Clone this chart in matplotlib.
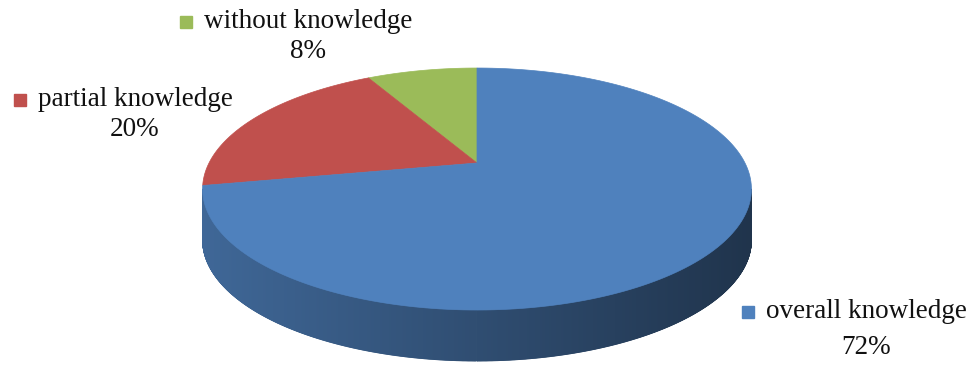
import numpy as np
import matplotlib.pyplot as plt
from matplotlib.patches import Polygon
from matplotlib.colors import to_rgb

# data, in drawing order (counter-clockwise from 12 o'clock)
labels = ['without knowledge', 'partial knowledge', 'overall knowledge']
values = [8, 20, 72]
colors = ['#9BBB59', '#C0504D', '#4F81BD']

# label placement (pixel coords of the text block centre, first line / second line)
label_pos = [(308, 22, 52), (135, 100, 129), (866, 312, 347)]

# tilted pie geometry on screen (pixels)
cx, cy = 477, 163
rx, ry = 268, 115.4
persp = 0.215
depth = 51


def project(theta):
    X, Y = np.cos(theta), np.sin(theta)
    d = 1 + persp * Y
    return cx + rx * X / d, cy - ry * Y / d


fig = plt.figure(figsize=(9.66, 3.67), dpi=100)
ax = fig.add_axes([0, 0, 1, 1])
ax.set_xlim(0, 966)
ax.set_ylim(367, 0)
ax.axis('off')

fracs = np.array(values) / np.sum(values)
starts = np.pi / 2 + 2 * np.pi * np.concatenate([[0], np.cumsum(fracs)[:-1]])
ends = starts + 2 * np.pi * fracs

# side walls (only the front facing part is visible)
for s, e, c in zip(starts, ends, colors):
    t = np.linspace(s, e, max(int(400 * (e - s)), 4))
    base = np.array(to_rgb(c))
    for t0, t1 in zip(t[:-1], t[1:]):
        tm = 0.5 * (t0 + t1)
        if np.sin(tm) >= -persp:
            continue
        x0, y0 = project(t0)
        x1, y1 = project(t1)
        f = 0.80 - 0.40 * (0.5 * (x0 + x1) - 203) / 550
        col = np.clip(base * f, 0, 1)
        ax.add_patch(Polygon([(x0, y0), (x1, y1), (x1, y1 + depth), (x0, y0 + depth)],
                             closed=True, facecolor=col, edgecolor=col, lw=0.6))

# top face
for s, e, c in zip(starts, ends, colors):
    t = np.linspace(s, e, 200)
    xs, ys = project(t)
    pts = [(cx, cy)] + list(zip(xs, ys))
    ax.add_patch(Polygon(pts, closed=True, facecolor=c, edgecolor=c, lw=0.5))

# data labels with legend keys
for lab, v, c, (lx, ly1, ly2) in zip(labels, values, colors, label_pos):
    t = ax.text(lx, ly1, lab, ha='center', va='center', fontsize=19.5,
                family='Liberation Serif', color='#111111')
    ax.text(lx, ly2, f'{v}%', ha='center', va='center', fontsize=19.5,
            family='Liberation Serif', color='#111111')
    fig.canvas.draw()
    bb = t.get_window_extent().transformed(ax.transData.inverted())
    ax.plot(bb.x0 - 18, ly1, marker='s', ms=8, color=c, ls='none')

fig.savefig('out.png', dpi=100)
